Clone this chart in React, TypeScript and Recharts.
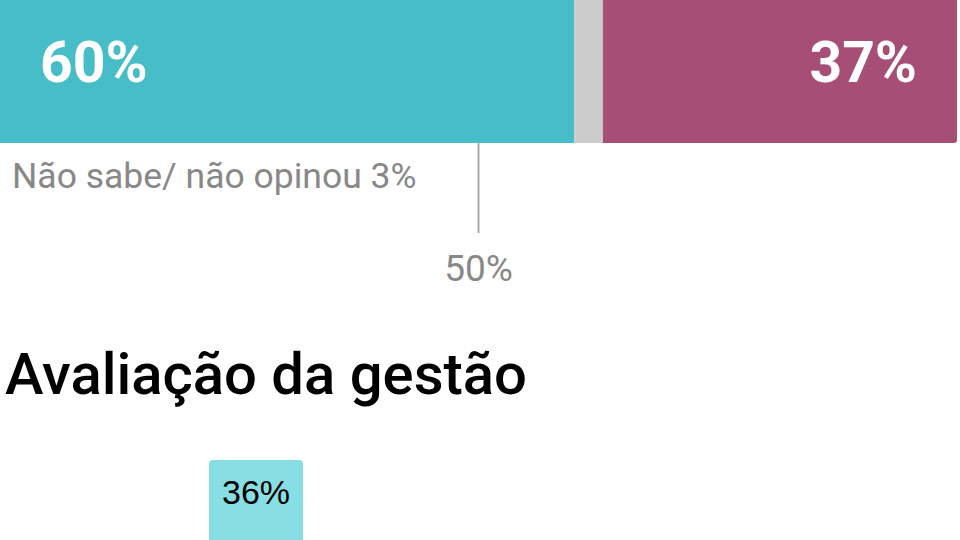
import { Bar, BarChart, LabelList, XAxis, YAxis } from 'recharts';

// top stacked bar: approval split
const topCategory = ['Aprovação'];
const approve = [60];
const noOpinion = [3];
const disapprove = [37];
const referenceTicks = [50];

// bottom column chart (only the first column is visible)
const evalCategories = ['Ótimo/bom'];
const evalValues = [36];

const topData = topCategory.map((name, i) => ({
    name,
    approve: approve[i],
    noOpinion: noOpinion[i],
    disapprove: disapprove[i],
}));

const evalData = evalCategories.map((name, i) => ({ name, value: evalValues[i] }));

const pct = (v: number) => `${v}%`;

export default function App() {
    return (
        <div
            style={{
                position: 'fixed',
                left: 0,
                top: 0,
                width: 960,
                height: 540,
                overflow: 'hidden',
                background: '#fff',
                fontFamily: 'Roboto, sans-serif',
            }}
        >
            <div style={{ position: 'absolute', left: 0, top: -20 }}>
                <BarChart
                    width={957}
                    height={330}
                    data={topData}
                    layout="vertical"
                    margin={{ top: 0, right: 0, bottom: 0, left: 0 }}
                    barCategoryGap={0}
                >
                    <XAxis
                        type="number"
                        domain={[0, 100]}
                        ticks={referenceTicks}
                        tickFormatter={pct}
                        axisLine={false}
                        tickSize={90}
                        tickMargin={22}
                        height={167}
                        tickLine={{ stroke: '#aaaaaa', strokeWidth: 2 }}
                        tick={{ fill: '#888888', fontSize: 37, fontFamily: 'Roboto, sans-serif' }}
                    />
                    <YAxis type="category" dataKey="name" hide />
                    <Bar dataKey="approve" stackId="a" fill="#47bec7" isAnimationActive={false}>
                        <LabelList
                            dataKey="approve"
                            position="insideLeft"
                            offset={40}
                            formatter={pct}
                            fill="#ffffff"
                            style={{ fontSize: 57, fontWeight: 700, fontFamily: 'Roboto, sans-serif' }}
                        />
                    </Bar>
                    <Bar dataKey="noOpinion" stackId="a" fill="#cccccc" isAnimationActive={false} />
                    <Bar
                        dataKey="disapprove"
                        stackId="a"
                        fill="#a64e76"
                        radius={[0, 3, 3, 0]}
                        isAnimationActive={false}
                    >
                        <LabelList
                            dataKey="disapprove"
                            position="insideRight"
                            offset={40}
                            formatter={pct}
                            fill="#ffffff"
                            style={{ fontSize: 57, fontWeight: 700, fontFamily: 'Roboto, sans-serif' }}
                        />
                    </Bar>
                </BarChart>
            </div>

            <div
                style={{
                    position: 'absolute',
                    left: 12,
                    top: 155,
                    fontSize: 35.5,
                    color: '#888888',
                    whiteSpace: 'nowrap',
                }}
            >
                Não sabe/ não opinou 3%
            </div>

            <div
                style={{
                    position: 'absolute',
                    left: 5,
                    top: 340,
                    fontSize: 58,
                    fontWeight: 500,
                    color: '#000000',
                    whiteSpace: 'nowrap',
                }}
            >
                Avaliação da gestão
            </div>

            <div style={{ position: 'absolute', left: 0, top: 430 }}>
                <BarChart
                    width={512}
                    height={300}
                    data={evalData}
                    margin={{ top: 0, right: 0, bottom: 0, left: 0 }}
                >
                    <XAxis dataKey="name" hide />
                    <YAxis domain={[0, 40]} hide />
                    <Bar
                        dataKey="value"
                        fill="#88dfe3"
                        barSize={94}
                        radius={[4, 4, 0, 0]}
                        isAnimationActive={false}
                    >
                        <LabelList
                            dataKey="value"
                            position="insideTop"
                            offset={20}
                            formatter={pct}
                            fill="#000000"
                            style={{ fontSize: 34, fontFamily: 'Liberation Sans, Arial, sans-serif' }}
                        />
                    </Bar>
                </BarChart>
            </div>
        </div>
    );
}
